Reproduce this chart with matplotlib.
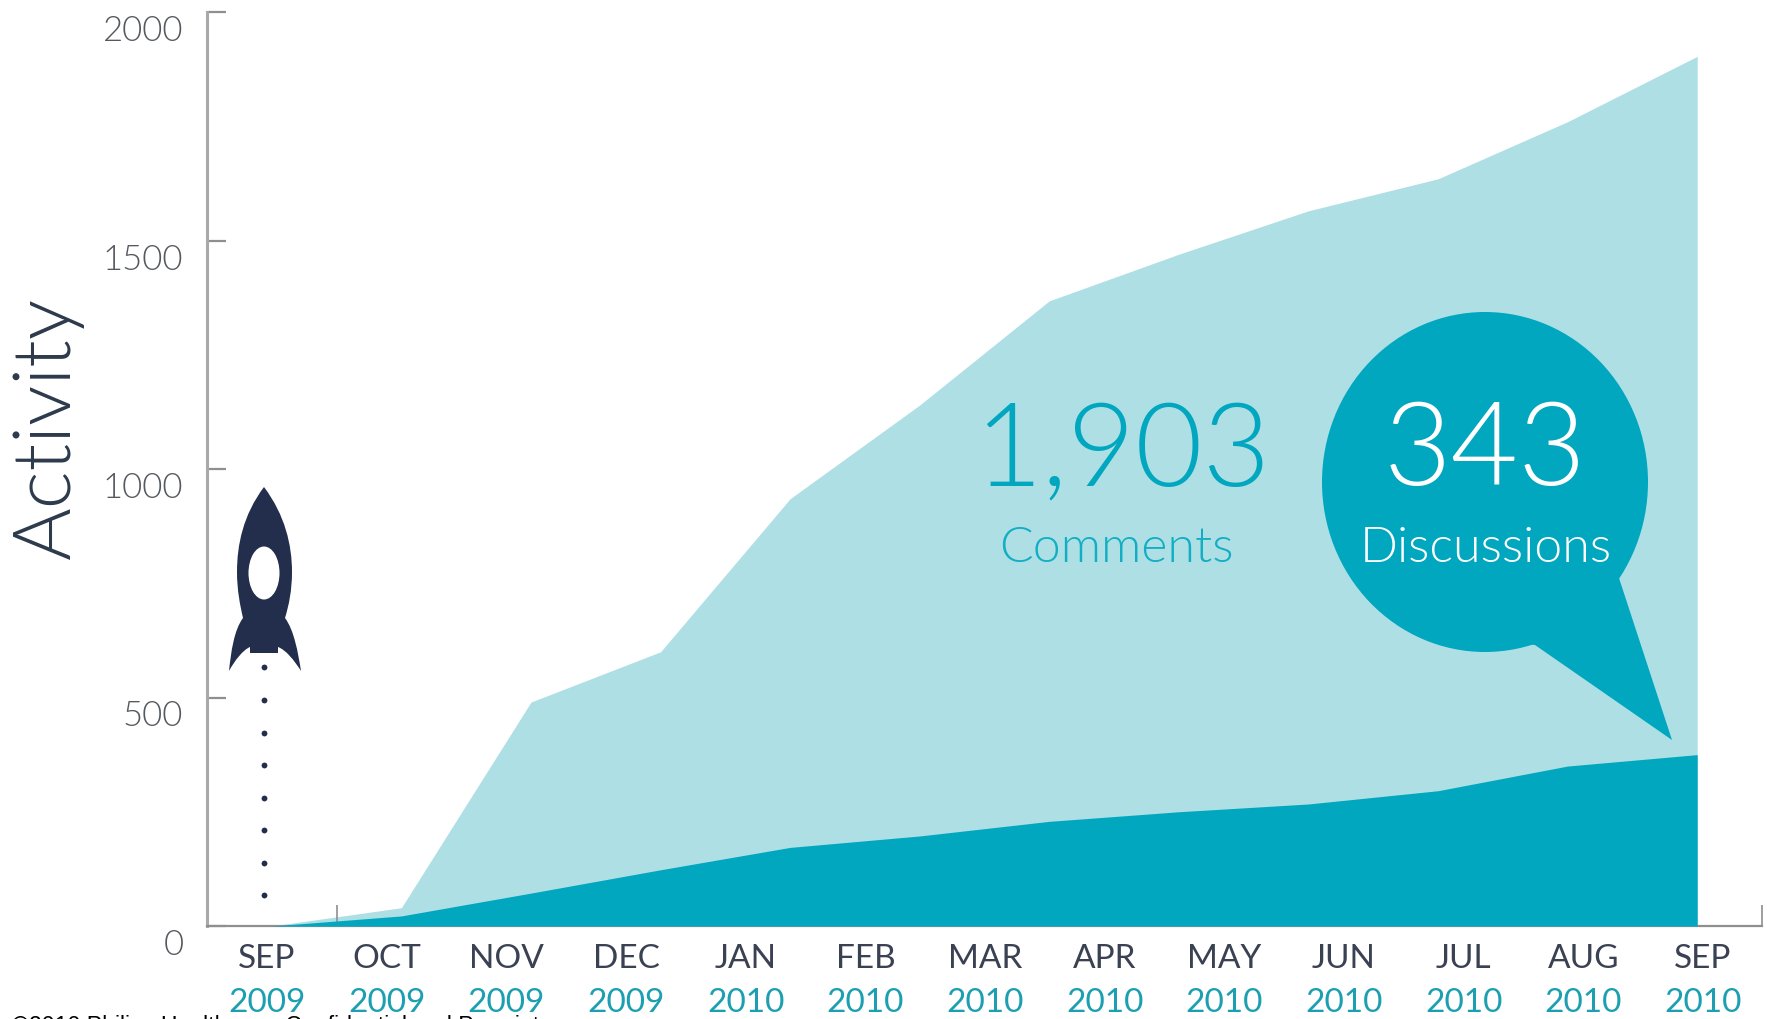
import matplotlib
matplotlib.use('Agg')
import matplotlib.pyplot as plt
from matplotlib.patches import Ellipse, PathPatch, Polygon
from matplotlib.path import Path
from matplotlib.transforms import ScaledTranslation

# one category per vertex of the chart
positions = [0, 1, 2, 3, 4, 5, 6, 7, 8, 9, 10, 11]
comments = [0, 40, 490, 600, 935, 1140, 1368, 1470, 1565, 1635, 1760, 1903]
discussions = [0, 22, 72, 123, 172, 197, 229, 250, 267, 296, 350, 375]

months = ['SEP', 'OCT', 'NOV', 'DEC', 'JAN', 'FEB', 'MAR', 'APR', 'MAY', 'JUN', 'JUL', 'AUG', 'SEP']
years = ['2009', '2009', '2009', '2009', '2010', '2010', '2010', '2010', '2010', '2010', '2010', '2010', '2010']
yticks = [0, 500, 1000, 1500, 2000]

LIGHT = '#aedfe5'
DARK = '#00a7bf'
NAVY = '#222e4c'
GREY = '#a9a9a9'
FONT = 'Lato'

W, H = 1767, 1019
fig = plt.figure(figsize=(W / 100, H / 100), dpi=100)
ax = fig.add_axes([207 / W, 1 - 926 / H, (1762 - 207) / W, (926 - 12) / H])

ax.fill_between(positions, comments, color=LIGHT, lw=0)
ax.fill_between(positions, discussions, color=DARK, lw=0, zorder=3)
ax.set_xlim(-0.5, 11.5)
ax.set_ylim(0, 2000)

for s in ['top', 'right']:
    ax.spines[s].set_visible(False)
ax.spines['left'].set_color(GREY)
ax.spines['left'].set_linewidth(2.2)
ax.spines['bottom'].set_color('#8f8f8f')
ax.spines['bottom'].set_linewidth(1.6)

# month labels were pasted on a slightly different spacing than the data
label_pos = [-0.037 + 0.9235 * i for i in range(len(months))]
ax.set_xticks(label_pos, months, family=FONT, fontsize=24, color='#3a4152')
ax.tick_params(axis='x', which='major', length=0, pad=13)
ax.set_xticks([0.5, 11.5], minor=True)
ax.tick_params(axis='x', which='minor', direction='in', length=15, width=1.2, color='#8f8f8f')

ax.set_yticks(yticks, [str(v) for v in yticks], family=FONT, weight=300, fontsize=25, color='#55595e')
ax.tick_params(axis='y', direction='in', length=14, width=1.6, color='#8f8f8f', pad=17)
shift = ScaledTranslation(0, -16 / 100, fig.dpi_scale_trans)
for lab in ax.get_yticklabels():
    lab.set_transform(lab.get_transform() + shift)

# everything painted over the chart goes on a pixel overlay
ov = fig.add_axes([0, 0, 1, 1], facecolor='none')
ov.set_xlim(0, W)
ov.set_ylim(H, 0)
ov.axis('off')

for i, yr in enumerate(years):
    ov.text(267 + 119.67 * i, 1003, yr, ha='center', va='center', family=FONT,
            fontsize=24, color='#1d9fb2', zorder=6)

ov.text(12, 1026, '©2010 Philips Healthcare, Confidential and Proprietary', ha='left', va='center',
        family='Liberation Sans', fontsize=16.7, color='black', zorder=5)

ov.text(47, 428, 'Activity', rotation=90, ha='center', va='center', family=FONT, weight=300,
        fontsize=58, color='#2c3a4c')

# speech bubble
ov.add_patch(Ellipse((1485, 482), 326, 340, fc=DARK, lw=0))
ov.add_patch(Polygon([(1618, 575), (1672, 740), (1535, 645), (1500, 640)], closed=True, fc=DARK, lw=0))

ov.text(1122, 453, '1,903', ha='center', va='center', family=FONT, weight=300, fontsize=84, color=DARK)
ov.text(1116, 548, 'Comments', ha='center', va='center', family=FONT, weight=300, fontsize=36, color='#12aec3')
ov.text(1485, 453, '343', ha='center', va='center', family=FONT, weight=300, fontsize=84, color='white')
ov.text(1486, 548, 'Discussions', ha='center', va='center', family=FONT, weight=300, fontsize=36, color='white')

# rocket
rocket = Path(
    [(264, 487), (243, 515), (237, 545), (237, 572), (237, 590), (240, 605), (243, 618),
     (234, 630), (231, 652), (229, 671), (235, 660), (243, 650), (250, 647),
     (250, 653), (278, 653), (278, 647),
     (286, 650), (294, 660), (301, 671), (298, 652), (294, 630), (285, 618),
     (289, 605), (292, 590), (292, 572), (292, 545), (285, 515), (264, 487)],
    [Path.MOVETO, Path.CURVE4, Path.CURVE4, Path.CURVE4, Path.CURVE4, Path.CURVE4, Path.CURVE4,
     Path.CURVE4, Path.CURVE4, Path.CURVE4, Path.CURVE4, Path.CURVE4, Path.CURVE4,
     Path.LINETO, Path.LINETO, Path.LINETO,
     Path.CURVE4, Path.CURVE4, Path.CURVE4, Path.CURVE4, Path.CURVE4, Path.CURVE4,
     Path.CURVE4, Path.CURVE4, Path.CURVE4, Path.CURVE4, Path.CURVE4, Path.CURVE4])
ov.add_patch(PathPatch(rocket, fc=NAVY, lw=0))
ov.add_patch(Ellipse((264, 573), 31, 53, fc='white', lw=0))
dot_y = [667, 700, 733, 765, 798, 830, 863, 895]
ov.plot([264] * len(dot_y), dot_y, 'o', ms=4.2, color=NAVY, mew=0)

fig.savefig('out.png', dpi=100)
